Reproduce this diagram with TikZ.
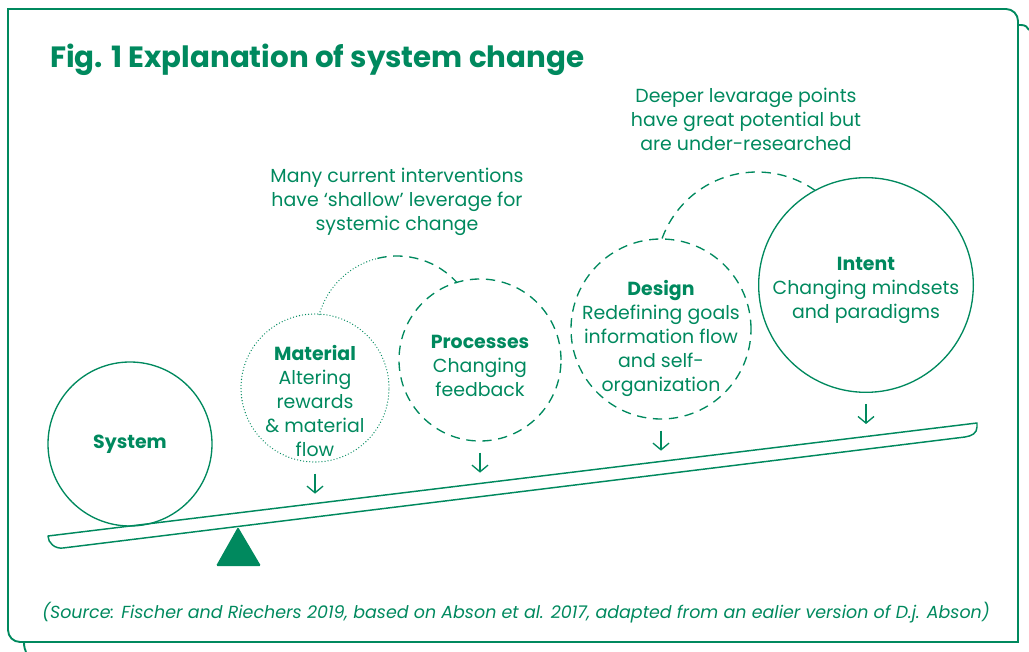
\documentclass[tikz,border=0pt]{standalone}
\usepackage{fontspec}
\setmainfont{Poppins}
\usetikzlibrary{arrows.meta}
\definecolor{leaf}{HTML}{00895E}
\tikzset{
  frame/.style={draw=leaf, line width=1.4pt},
  ring/.style={circle, draw=leaf, line width=1pt, inner sep=0pt},
  ringdash/.style={ring, dash pattern=on 7pt off 5pt},
  ringdot/.style={ring, line cap=round, dash pattern=on 0pt off 2.3pt},
  ghost/.style={draw=leaf, line width=1pt, dash pattern=on 7pt off 5pt},
  ghostdot/.style={draw=leaf, line width=1pt, line cap=round, dash pattern=on 0pt off 2.3pt},
  txt/.style={text=leaf, align=center, font=\fontsize{14.2}{18}\selectfont},
  arr/.style={draw=leaf, line width=1pt, -{Straight Barb[length=5pt,width=12pt]}},
  beam/.style={draw=leaf, line width=1.1pt, line join=round},
}

\begin{document}
\begin{tikzpicture}[x=0.75pt, y=-0.75pt]
  \useasboundingbox (0,0) rectangle (1029,652);
  % frame
  \draw[frame] (8,9) -- (1006,9) arc[start angle=-90, end angle=0, radius=12]
    -- (1018,642) -- (20,642) arc[start angle=90, end angle=180, radius=12] -- cycle;
  \draw[frame] (1018,25) -- (1021,25) .. controls (1025,25) and (1028,27) .. (1029,30);
  \draw[frame] (24,642) .. controls (24,647) and (25,650) .. (26,652);

  \node[anchor=base west, inner sep=0pt, text=leaf, font=\bfseries\fontsize{22}{26}\selectfont] (title)
    at (50,68) {Fig. 1 Explanation of system change};

  \node[txt] (deep) at (746,119) {Deeper levarage points\\have great potential but\\are under-researched};
  \node[txt] (shallow) at (397,202) {Many current interventions\\have ‘shallow’ leverage for\\systemic change};

  % circles
  \node[ring, txt, minimum size=123pt] (sys) at (130,444) {\textbf{System}};
  \node[ringdot, minimum size=111pt] (mat) at (315,388) {};
  \node[ringdash, minimum size=121.5pt] (proc) at (480,360) {};
  \node[ringdash, minimum size=135pt] (des) at (661,329) {};
  \node[ring, minimum size=161pt] (int) at (866,285) {};

  \node[txt] (mat-t) at (315,401) {\textbf{Material}\\Altering\\rewards\\\& material\\flow};
  \node[txt] (proc-t) at (480,366) {\textbf{Processes}\\Changing\\feedback};
  \node[txt] (des-t) at (661,338) {\textbf{Design}\\Redefining goals\\information flow\\and self-\\organization};
  \node[txt] (int-t) at (866,290) {\textbf{Intent}\\Changing mindsets\\and paradigms};

  % moved circles
  \draw[ghostdot] (397,337) ++(-164:81) arc[start angle=-164, end angle=-104, radius=81] coordinate (mg);
  \draw[ghost] (mg) arc[start angle=-104, end angle=-42, radius=81];
  \draw[ghost] (757,273) ++(-160:101) arc[start angle=-160, end angle=-55, radius=101];

  \foreach \c in {mat,proc,des,int}
    \draw[arr] (\c.south) ++(0,11) -- ++(0,20);

  % lever
  \draw[beam] (48,536) -- (977,423) -- (977,427) .. controls (977,433) and (972,436) .. (965,437)
    -- (63,548) .. controls (55,549) and (48,543) .. (48,536) -- cycle;
  \fill[leaf, rounded corners=1pt] (238,527) -- (261,566) -- (216,566) -- cycle;

  \node[text=leaf, font=\itshape\fontsize{13.1}{15}\selectfont] (src) at (516,613)
    {(Source: Fischer and Riechers 2019, based on Abson et al. 2017, adapted from an ealier version of D.j. Abson)};
\end{tikzpicture}
\end{document}
